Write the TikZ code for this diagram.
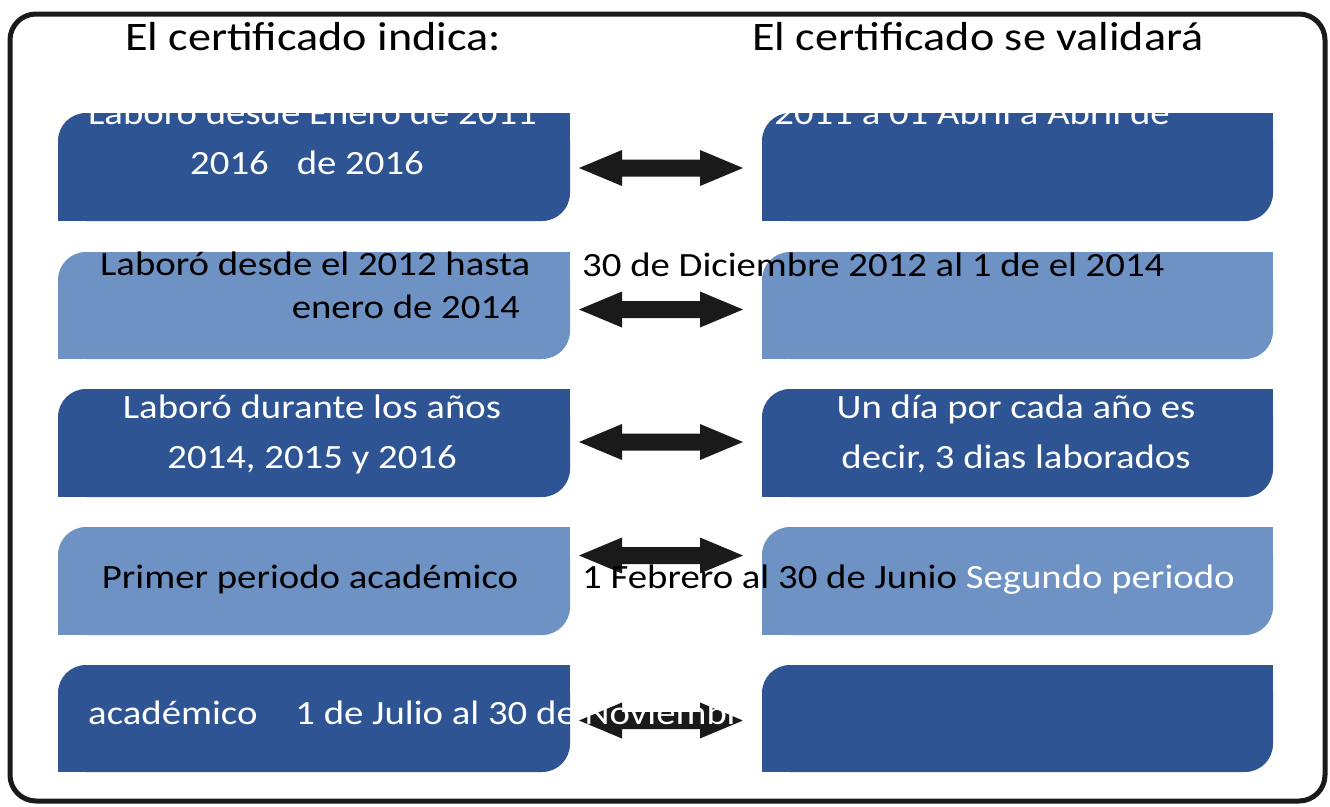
\documentclass[tikz,border=0pt]{standalone}
\usepackage{fontspec}
\setmainfont{Carlito}[FakeStretch=1.14]
\definecolor{darkb}{HTML}{2E5494}
\definecolor{lightb}{HTML}{6D92C3}
\definecolor{arrowc}{HTML}{1A1A1A}
\begin{document}
\begin{tikzpicture}[x=1pt,y=-1pt,
  body/.style={font=\fontsize{34}{40}\selectfont, inner sep=0pt},
  ttl/.style={font=\fontsize{40.5}{48}\selectfont, inner sep=0pt, anchor=base, text=black},
  wtxt/.style={body, text=white},
  btxt/.style={body, text=black},
  frame/.style={draw=arrowc, line width=5pt, rounded corners=26pt},
  dblarrow/.style={fill=arrowc}]
\useasboundingbox (0,0) rectangle (1330,806);
\draw[frame] (10,14) rectangle (1325,801);
\node[ttl] (t1) at (313,50) {El certificado indica:};
\node[ttl] (t2) at (978,50) {El certificado se validará};
\foreach \t/\b/\c/\ay [count=\i] in {113/221/darkb/168, 252/359/lightb/309.5, 389/497/darkb/442, 527/635/lightb/555.5, 665/772/darkb/720.5}{
  % left box
  \fill[\c, rounded corners=28pt] (58,\t) rectangle (570,\b);
  \fill[\c] (540,\t) rectangle (570,\t+30);
  \fill[\c] (58,\b-30) rectangle (88,\b);
  % right box
  \fill[\c, rounded corners=28pt] (762,\t) rectangle (1273,\b);
  \fill[\c] (1243,\t) rectangle (1273,\t+30);
  \fill[\c] (762,\b-30) rectangle (792,\b);
  \coordinate (L\i) at (570,\ay);
  \coordinate (R\i) at (762,\ay);
  % double arrow
  \fill[dblarrow] (579,\ay) -- (622,\ay-18) -- (622,\ay-8.5) -- (700,\ay-8.5) -- (700,\ay-18)
     -- (743,\ay) -- (700,\ay+18) -- (700,\ay+8.5) -- (622,\ay+8.5) -- (622,\ay+18) -- cycle;
}
% row 1
\node[wtxt, anchor=base west] (r1a) at (88,124) {Laboró desde Enero de 2011};
\node[wtxt, anchor=base west] (r1b) at (190,174) {2016\hspace{28pt}de 2016};
\node[wtxt, anchor=base east] (r1c) at (1170,124) {30 Enero de 2011 a 01 Abril a Abril de};
% row 2
\node[btxt, anchor=base west] (r2a) at (100,275) {Laboró desde el 2012 hasta};
\node[btxt, anchor=base east] (r2b) at (520,318) {enero de 2014};
\node[btxt, anchor=base west] (r2c) at (582,276) {30 de Diciembre 2012 al 1 de el 2014};
% row 3
\node[wtxt, anchor=base] (r3a) at (312,418) {Laboró durante los años};
\node[wtxt, anchor=base] (r3b) at (312,468) {2014, 2015 y 2016};
\node[wtxt, anchor=base] (r3c) at (1016,418) {Un día por cada año es};
\node[wtxt, anchor=base] (r3d) at (1016,468) {decir, 3 dias laborados};
% row 4
\node[btxt, anchor=base] (r4a) at (310,588) {Primer periodo académico};
\node[btxt, anchor=base west] (r4b) at (582,588) {1 Febrero al 30 de Junio \textcolor{white}{Segundo periodo}};
% row 5
\node[wtxt, anchor=base west] (r5a) at (88,724) {académico\hspace{38pt}1 de Julio al 30 de Noviembre};
\end{tikzpicture}
\end{document}
